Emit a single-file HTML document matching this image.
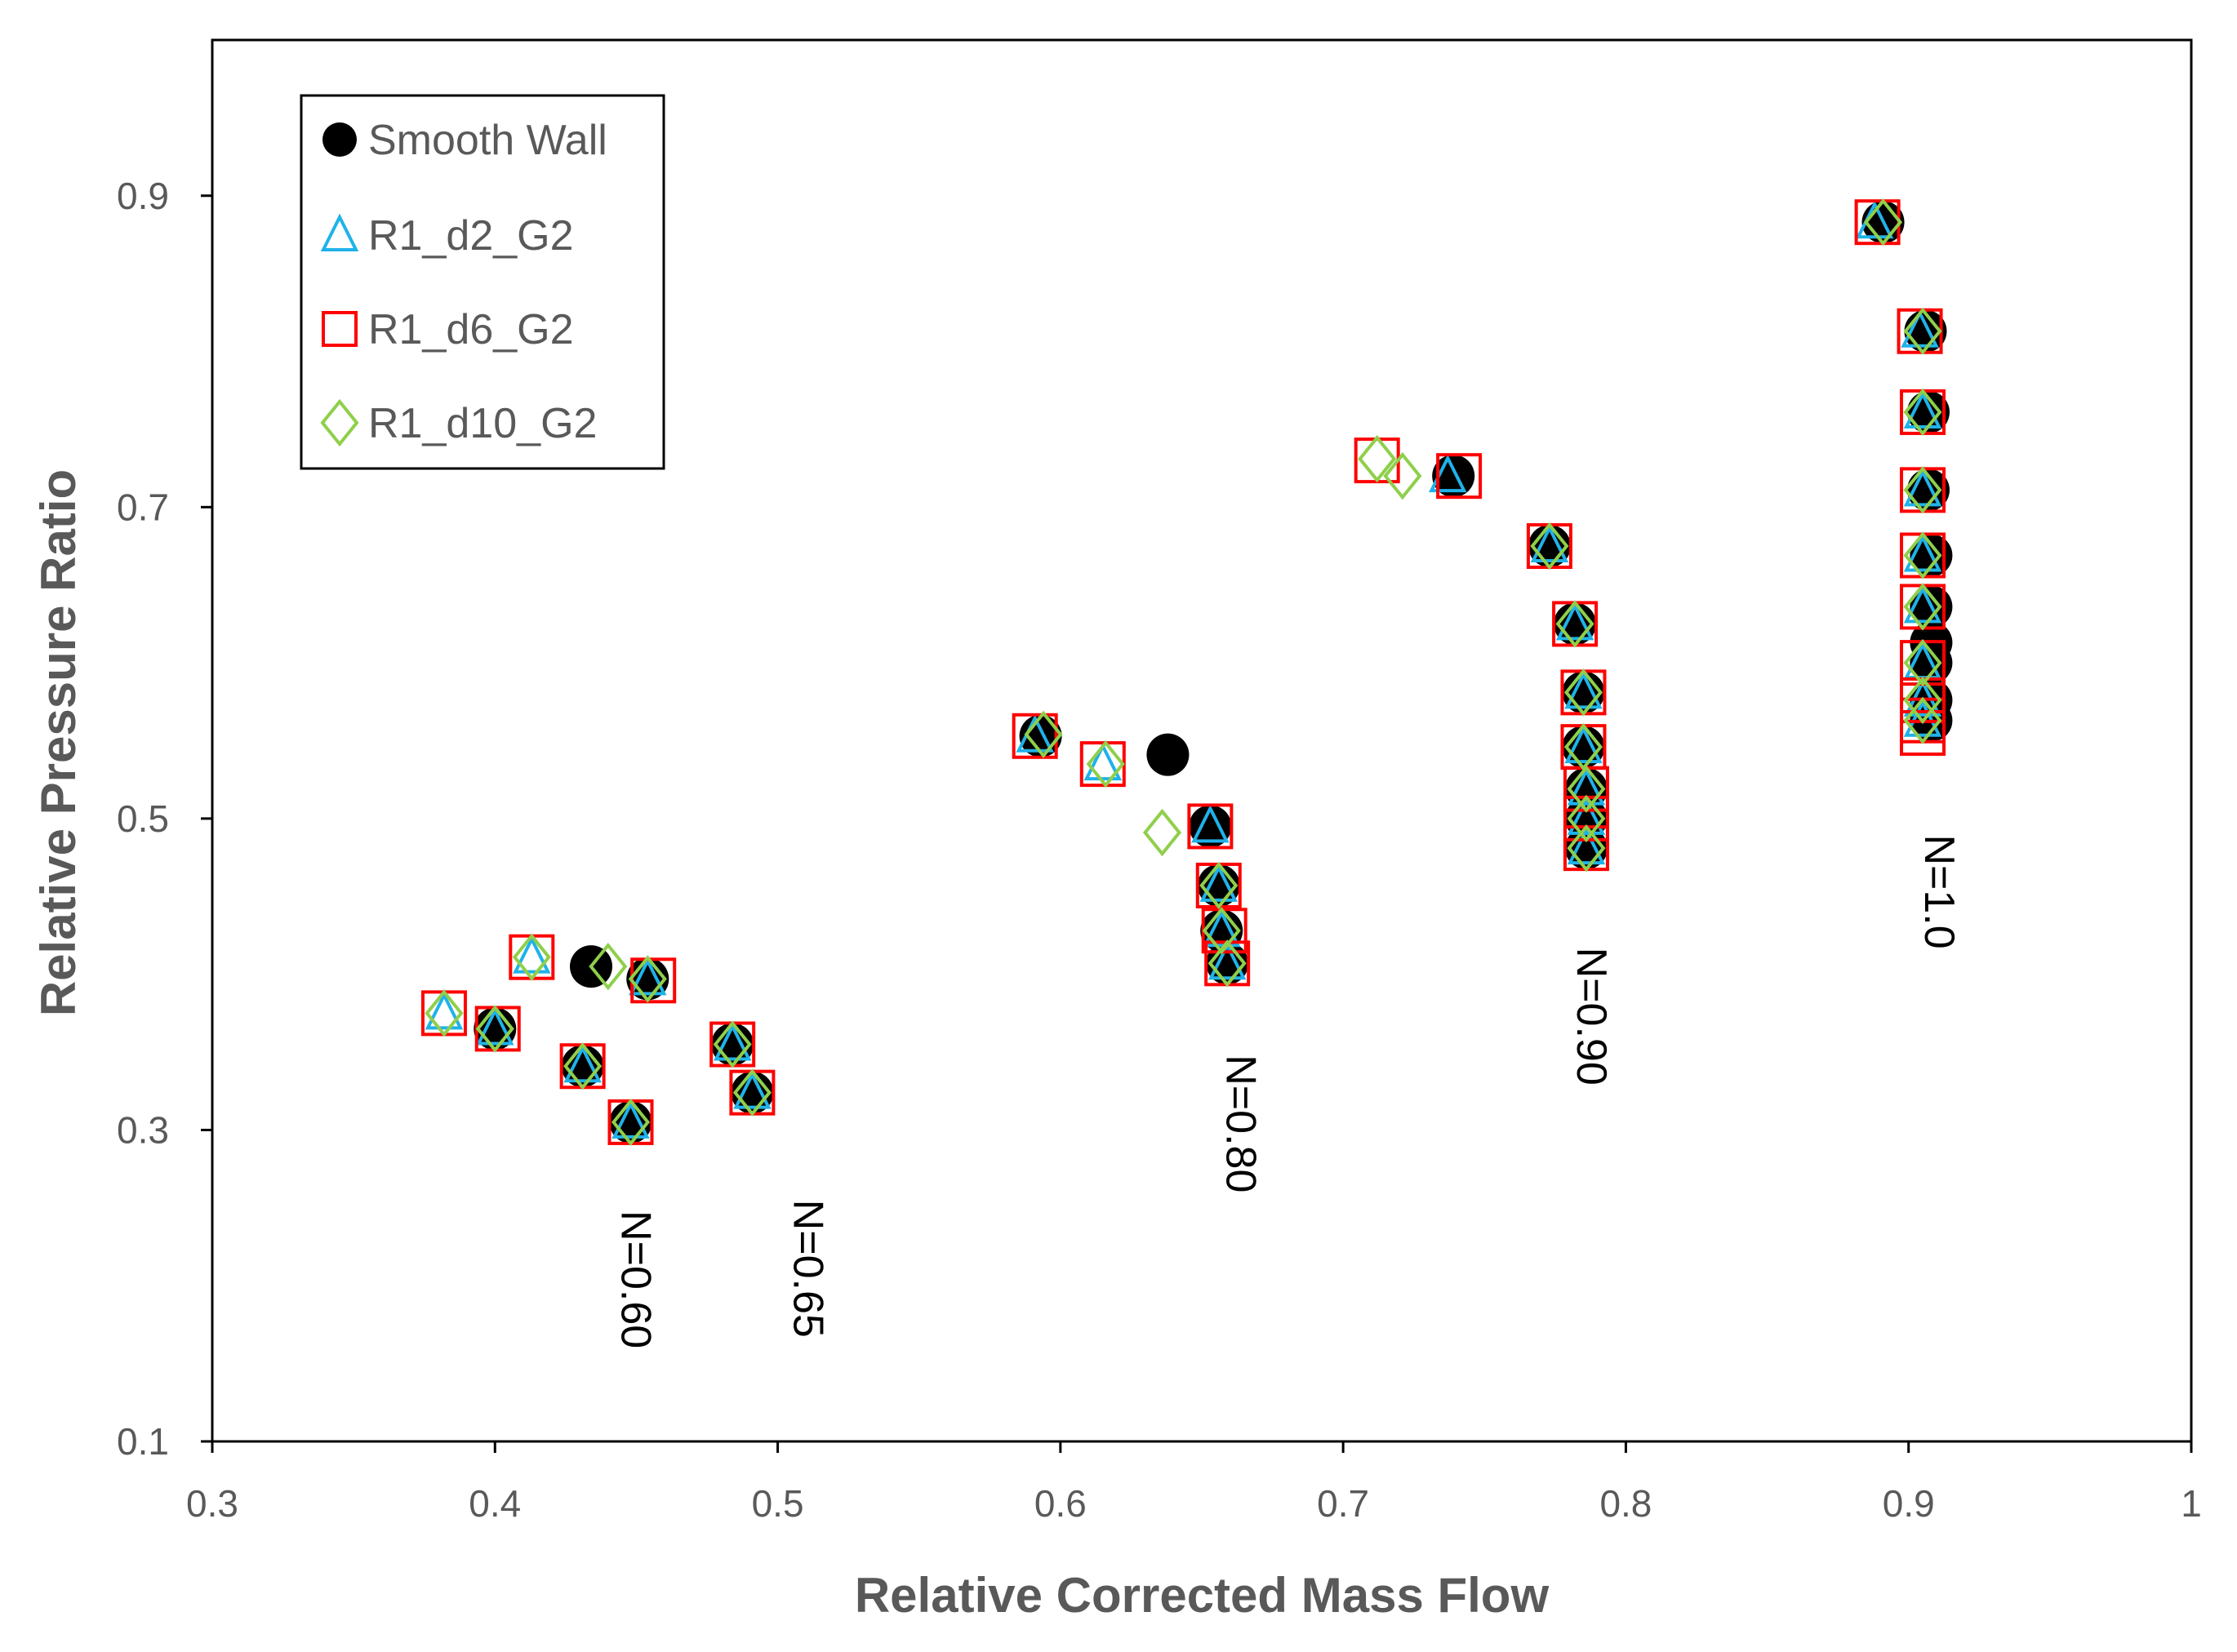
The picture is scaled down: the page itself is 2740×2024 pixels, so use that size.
<!DOCTYPE html>
<html><head><meta charset="utf-8"><style>
body{margin:0;background:#fff;}
svg{display:block;font-family:"Liberation Sans",sans-serif;}
</style></head><body>
<svg id="chart" width="2740" height="2024">
<rect x="0" y="0" width="2740" height="2024" fill="#fff"/>
<g id="plot"></g>
</svg>
<script>
const xTicks=[0.3,0.4,0.5,0.6,0.7,0.8,0.9,1];
const xTickLabels=["0.3","0.4","0.5","0.6","0.7","0.8","0.9","1"];
const yTicks=[0.1,0.3,0.5,0.7,0.9];
const yTickLabels=["0.1","0.3","0.5","0.7","0.9"];
const smoothX=[0.400,0.431,0.448,0.434,0.454,0.484,0.491,0.593,0.638,0.653,0.656,0.657,0.659,0.739,0.773,0.782,0.785,0.785,0.786,0.786,0.786,0.891,0.906,0.907,0.907,0.908,0.908,0.908,0.908,0.908,0.908];
const smoothY=[0.365,0.341,0.305,0.405,0.397,0.355,0.324,0.553,0.541,0.495,0.457,0.428,0.407,0.720,0.675,0.625,0.581,0.546,0.519,0.500,0.481,0.883,0.813,0.761,0.711,0.669,0.636,0.613,0.600,0.576,0.563];
const d2X=[0.382,0.400,0.431,0.448,0.413,0.454,0.484,0.491,0.591,0.615,0.653,0.656,0.657,0.659,0.737,0.773,0.782,0.785,0.785,0.786,0.786,0.786,0.888,0.904,0.905,0.905,0.905,0.905,0.905,0.905,0.905,0.905];
const d2Y=[0.375,0.365,0.341,0.305,0.411,0.397,0.355,0.324,0.553,0.535,0.495,0.457,0.428,0.407,0.720,0.675,0.625,0.581,0.546,0.519,0.500,0.481,0.883,0.813,0.761,0.711,0.669,0.636,0.600,0.576,0.563];
const d6X=[0.382,0.401,0.431,0.448,0.413,0.456,0.484,0.491,0.591,0.615,0.653,0.656,0.658,0.659,0.712,0.741,0.773,0.782,0.785,0.785,0.786,0.786,0.786,0.889,0.904,0.905,0.905,0.905,0.905,0.905,0.905,0.905,0.905];
const d6Y=[0.375,0.365,0.341,0.305,0.411,0.396,0.355,0.324,0.553,0.535,0.495,0.457,0.428,0.407,0.730,0.720,0.675,0.625,0.581,0.546,0.519,0.500,0.481,0.883,0.813,0.761,0.711,0.669,0.636,0.600,0.576,0.563,0.555];
const d10X=[0.382,0.400,0.431,0.448,0.413,0.440,0.454,0.484,0.491,0.594,0.616,0.636,0.656,0.657,0.659,0.712,0.721,0.773,0.782,0.785,0.785,0.786,0.786,0.786,0.891,0.905,0.905,0.905,0.905,0.905,0.905,0.905,0.905];
const d10Y=[0.375,0.365,0.341,0.305,0.411,0.405,0.397,0.355,0.324,0.554,0.535,0.491,0.457,0.428,0.407,0.731,0.720,0.675,0.625,0.581,0.546,0.519,0.500,0.481,0.883,0.813,0.761,0.711,0.669,0.636,0.600,0.576,0.563];
const speedLabels=["N=0.60","N=0.65","N=0.80","N=0.90","N=1.0"];
const speedLabelX=[0.450,0.511,0.664,0.788,0.911];
const speedLabelY=[0.204,0.211,0.304,0.373,0.453];

const L=260,R=2684,T=49,B=1766,xmin=0.3,xmax=1.0,ymin=0.1,ymax=1.0;
const sx=v=>L+(v-xmin)/(xmax-xmin)*(R-L);
const sy=v=>B-(v-ymin)/(ymax-ymin)*(B-T);
const NS="http://www.w3.org/2000/svg";
const g=document.getElementById('plot');
function mk(tag,attrs,parent){const e=document.createElementNS(NS,tag);for(const k in attrs)e.setAttribute(k,attrs[k]);(parent||g).appendChild(e);return e;}
const gray="#595959";
let frame=mk('rect',{x:L,y:T,width:R-L,height:B-T,fill:'none',stroke:'#000','stroke-width':3});


xTicks.forEach((v,i)=>{
  let t=mk('line',{x1:sx(v),x2:sx(v),y1:B,y2:B+14,stroke:'#000','stroke-width':3});
  
  
  let l=mk('text',{x:sx(v),y:1858,'text-anchor':'middle','font-size':46,fill:gray});
  l.textContent=xTickLabels[i];
  
  
});
yTicks.forEach((v,i)=>{
  let t=mk('line',{x1:L-14,x2:L,y1:sy(v),y2:sy(v),stroke:'#000','stroke-width':3});
  
  
  let l=mk('text',{x:207,y:sy(v)+16,'text-anchor':'end','font-size':46,fill:gray});
  l.textContent=yTickLabels[i];
  
  
});
let xt=mk('text',{x:1472,y:1975,'text-anchor':'middle','font-size':60,'font-weight':'bold',fill:gray});
xt.textContent='Relative Corrected Mass Flow';


let yt=mk('text',{x:0,y:0,'text-anchor':'middle','font-size':60,'font-weight':'bold',fill:gray,transform:'translate(92,910) rotate(-90)'});
yt.textContent='Relative Pressure Ratio';



function circle(cx,cy,p){return mk('circle',{cx:cx,cy:cy,r:26,fill:'#000'},p);}
function square(cx,cy,p){return mk('rect',{x:cx-26,y:cy-26,width:52,height:52,fill:'none',stroke:'#ff0000','stroke-width':4},p);}
function tri(cx,cy,p){return mk('polygon',{points:`${cx},${cy-22} ${cx-20},${cy+18} ${cx+20},${cy+18}`,fill:'none',stroke:'#1fb2ea','stroke-width':4},p);}
function dia(cx,cy,p){return mk('polygon',{points:`${cx},${cy-26} ${cx+21},${cy} ${cx},${cy+26} ${cx-21},${cy}`,fill:'none',stroke:'#8fcf4a','stroke-width':4},p);}
const series=[[smoothX,smoothY,circle,'smooth-wall'],[d2X,d2Y,tri,'r1-d2-g2'],[d6X,d6Y,square,'r1-d6-g2'],[d10X,d10Y,dia,'r1-d10-g2']];
series.forEach(s=>{
  const grp=mk('g',{});
  
  
  s[0].forEach((x,i)=>{
    const m=s[2](sx(x),sy(s[1][i]),grp);
    
    
  });
});
speedLabels.forEach((t,i)=>{
  const x=sx(speedLabelX[i]),y=sy(speedLabelY[i]);
  let l=mk('text',{x:0,y:0,'text-anchor':'middle','font-size':52,fill:'#000',transform:`translate(${x-18},${y}) rotate(90)`});
  l.textContent=t;
  
  
});
const lg=mk('g',{});


mk('rect',{x:369,y:117,width:444,height:457,fill:'#fff',stroke:'#000','stroke-width':3},lg);
const legNames=['Smooth Wall','R1_d2_G2','R1_d6_G2','R1_d10_G2'];
const legY=[171,288,403,518];
const legFns=[circle,tri,square,dia];
legNames.forEach((n,i)=>{
  const e=mk('g',{},lg);
  
  
  const m=legFns[i](416,legY[i],e);
  if(i==0){m.setAttribute('r',21);}
  if(i==2){m.setAttribute('x',396);m.setAttribute('y',legY[i]-20);m.setAttribute('width',40);m.setAttribute('height',40);}
  const t=mk('text',{x:451,y:legY[i]+18,'font-size':52,fill:gray},e);
  t.textContent=n;
});
</script>
</body></html>
